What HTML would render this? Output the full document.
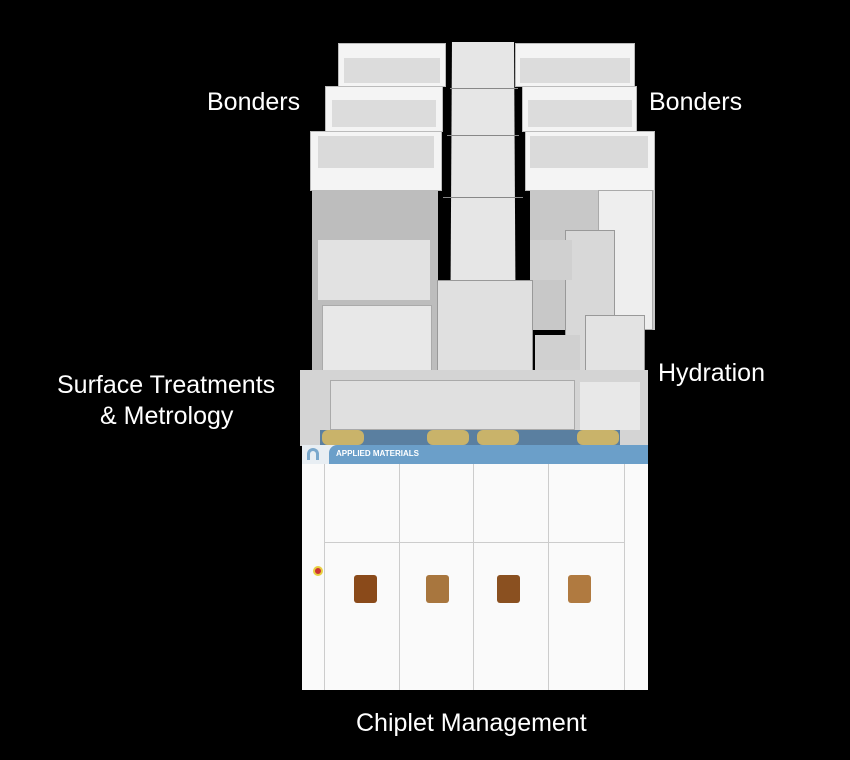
<!DOCTYPE html>
<html><head><style>
body{margin:0;width:850px;height:760px;background:#000;position:relative;overflow:hidden;font-family:"Liberation Sans",sans-serif}
.a{position:absolute;box-sizing:border-box}
.t{position:absolute;color:#fff;font-size:25px;white-space:nowrap}
.w{background:#f4f4f4;border:1px solid #bbb}
.g{background:#cfcfcf}
.win{position:absolute;width:23px;height:28px;background:#8a4a1a;border-radius:3px;top:575px}
</style></head><body>
<!-- left bonders -->
<div class="a w" style="left:338px;top:43px;width:108px;height:44px"></div>
<div class="a g" style="left:344px;top:58px;width:96px;height:25px;background:#dcdcdc"></div>
<div class="a w" style="left:325px;top:86px;width:118px;height:46px"></div>
<div class="a" style="left:332px;top:100px;width:104px;height:27px;background:#dcdcdc"></div>
<div class="a w" style="left:310px;top:131px;width:132px;height:60px"></div>
<div class="a" style="left:318px;top:136px;width:116px;height:32px;background:#dadada"></div>
<div class="a" style="left:312px;top:190px;width:126px;height:190px;background:#bdbdbd"></div>
<div class="a" style="left:318px;top:240px;width:112px;height:60px;background:#e2e2e2"></div>
<div class="a" style="left:322px;top:305px;width:110px;height:75px;background:#e8e8e8;border:1px solid #aaa"></div>
<!-- right bonders -->
<div class="a w" style="left:515px;top:43px;width:120px;height:44px"></div>
<div class="a" style="left:520px;top:58px;width:110px;height:25px;background:#dcdcdc"></div>
<div class="a w" style="left:522px;top:86px;width:115px;height:46px"></div>
<div class="a" style="left:528px;top:100px;width:104px;height:27px;background:#dcdcdc"></div>
<div class="a w" style="left:525px;top:131px;width:130px;height:60px"></div>
<div class="a" style="left:530px;top:136px;width:118px;height:32px;background:#dadada"></div>
<div class="a" style="left:530px;top:190px;width:125px;height:140px;background:#c8c8c8"></div>
<div class="a" style="left:598px;top:190px;width:55px;height:140px;background:#eee;border:1px solid #aaa"></div>
<!-- hydration -->
<div class="a" style="left:565px;top:230px;width:50px;height:210px;background:#d8d8d8;border:1px solid #999"></div>
<div class="a" style="left:585px;top:315px;width:60px;height:125px;background:#e3e3e3;border:1px solid #999"></div>
<div class="a" style="left:530px;top:240px;width:42px;height:40px;background:#d0d0d0"></div>
<div class="a" style="left:535px;top:335px;width:45px;height:45px;background:#d0d0d0"></div>
<!-- conveyor -->
<div class="a" style="left:450px;top:42px;width:66px;height:340px;background:#e6e6e6;clip-path:polygon(3% 0,97% 0,100% 100%,0 100%)"></div>
<div class="a" style="left:437px;top:280px;width:96px;height:100px;background:#e0e0e0;border:1px solid #999"></div>
<div class="a" style="left:450px;top:88px;width:68px;height:1px;background:#888"></div>
<div class="a" style="left:447px;top:135px;width:72px;height:1px;background:#888"></div>
<div class="a" style="left:443px;top:197px;width:80px;height:1px;background:#888"></div>
<!-- surface treatments -->
<div class="a" style="left:300px;top:370px;width:348px;height:76px;background:#d4d4d4"></div>
<div class="a" style="left:330px;top:380px;width:245px;height:50px;background:#e0e0e0;border:1px solid #aaa"></div>
<div class="a" style="left:580px;top:382px;width:60px;height:48px;background:#e8e8e8"></div>
<div class="a" style="left:320px;top:430px;width:300px;height:15px;background:#5a7fa0"></div>
<div class="a" style="left:322px;top:430px;width:42px;height:15px;background:#c9b36a;border-radius:6px"></div>
<div class="a" style="left:427px;top:430px;width:42px;height:15px;background:#c9b36a;border-radius:6px"></div>
<div class="a" style="left:477px;top:430px;width:42px;height:15px;background:#c9b36a;border-radius:6px"></div>
<div class="a" style="left:577px;top:430px;width:42px;height:15px;background:#c9b36a;border-radius:6px"></div>
<!-- front chiplet management -->
<div class="a" style="left:302px;top:445px;width:346px;height:245px;background:#fafafa"></div>
<div class="a" style="left:302px;top:445px;width:346px;height:19px;background:#e8eef3"></div>
<div class="a" style="left:329px;top:445px;width:319px;height:19px;background:#6b9fc9;border-radius:8px 0 0 0"></div>
<div class="a" style="left:336px;top:449px;color:#fff;font-size:8px;font-weight:bold">APPLIED MATERIALS</div>
<div class="a" style="left:307px;top:448px;width:12px;height:12px;border:3px solid #7aa8cc;border-radius:6px 6px 0 0;border-bottom:none"></div>
<div class="a" style="left:324px;top:464px;width:1px;height:226px;background:#ccc"></div>
<div class="a" style="left:399px;top:464px;width:1px;height:226px;background:#ccc"></div>
<div class="a" style="left:473px;top:464px;width:1px;height:226px;background:#ccc"></div>
<div class="a" style="left:548px;top:464px;width:1px;height:226px;background:#ccc"></div>
<div class="a" style="left:624px;top:464px;width:1px;height:226px;background:#ccc"></div>
<div class="a" style="left:324px;top:542px;width:300px;height:1px;background:#ccc"></div>
<div class="win" style="left:354px"></div>
<div class="win" style="left:426px;background:#a8763e"></div>
<div class="win" style="left:497px;background:#8a5020"></div>
<div class="win" style="left:568px;background:#b07a40"></div>
<div class="a" style="left:313px;top:566px;width:10px;height:10px;border-radius:5px;background:#c33;border:2px solid #e8d040"></div>
<div class="t" style="left:207px;top:88px">Bonders</div>
<div class="t" style="left:649px;top:88px">Bonders</div>
<div class="t" style="left:57px;top:371px">Surface Treatments</div>
<div class="t" style="left:100px;top:402px">&amp; Metrology</div>
<div class="t" style="left:658px;top:359px">Hydration</div>
<div class="t" style="left:356px;top:709px">Chiplet Management</div>
</body></html>
